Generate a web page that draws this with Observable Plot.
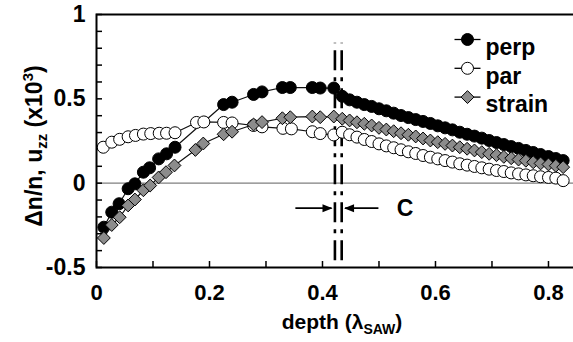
<!DOCTYPE html>
<html>
<head>
<meta charset="utf-8">
<script src="https://cdn.jsdelivr.net/npm/d3@7"></script>
<script src="https://cdn.jsdelivr.net/npm/@observablehq/plot@0.6"></script>
<style>
  html, body { margin: 0; padding: 0; background: #fff; }
  svg { display: block; }
</style>
</head>
<body>
<div id="chart"></div>
<script>
// ---- data ----
const depthDense = [0.435, 0.448, 0.461, 0.474, 0.487, 0.500, 0.513, 0.526, 0.539, 0.552,
  0.565, 0.578, 0.591, 0.604, 0.617, 0.630, 0.643, 0.656, 0.669, 0.682,
  0.695, 0.708, 0.721, 0.734, 0.747, 0.760, 0.773, 0.786, 0.800, 0.813, 0.826];

const perpXLeft = [0.013, 0.027, 0.040, 0.056, 0.068, 0.083, 0.094, 0.110, 0.124, 0.139,
  0.225, 0.240, 0.278, 0.293, 0.329, 0.343, 0.382, 0.396, 0.420];
const perpYLeft = [-0.261, -0.172, -0.122, -0.033, -0.004, 0.065, 0.091, 0.144, 0.174, 0.213,
  0.466, 0.480, 0.526, 0.541, 0.567, 0.567, 0.567, 0.564, 0.564];
const perpYDense = [0.515, 0.494, 0.480, 0.466, 0.455, 0.441, 0.429, 0.415, 0.401, 0.389,
  0.377, 0.366, 0.354, 0.340, 0.328, 0.316, 0.302, 0.290, 0.279, 0.267,
  0.253, 0.241, 0.229, 0.217, 0.206, 0.194, 0.182, 0.170, 0.158, 0.146, 0.134];

const parXLeft = [0.012, 0.027, 0.041, 0.056, 0.069, 0.083, 0.096, 0.111, 0.124, 0.139,
  0.177, 0.190, 0.225, 0.240, 0.278, 0.293, 0.330, 0.345, 0.382, 0.396, 0.420];
const parYLeft = [0.213, 0.243, 0.260, 0.275, 0.283, 0.291, 0.294, 0.296, 0.296, 0.299,
  0.360, 0.363, 0.360, 0.357, 0.342, 0.334, 0.325, 0.322, 0.305, 0.294, 0.286];
const parYDense = [0.302, 0.287, 0.273, 0.259, 0.247, 0.233, 0.221, 0.210, 0.198, 0.186,
  0.176, 0.164, 0.154, 0.144, 0.134, 0.125, 0.115, 0.107, 0.099, 0.091,
  0.083, 0.075, 0.069, 0.061, 0.055, 0.049, 0.044, 0.038, 0.034, 0.030, 0.015];

const strainXLeft = [0.013, 0.027, 0.041, 0.056, 0.068, 0.083, 0.095, 0.110, 0.123, 0.138,
  0.175, 0.189, 0.225, 0.240, 0.278, 0.293, 0.329, 0.343, 0.382, 0.396, 0.420];
const strainYLeft = [-0.325, -0.248, -0.202, -0.132, -0.097, -0.042, -0.014, 0.034, 0.065, 0.105,
  0.197, 0.235, 0.290, 0.305, 0.348, 0.362, 0.385, 0.391, 0.395, 0.391, 0.395];
const strainYDense = [0.382, 0.372, 0.361, 0.352, 0.342, 0.328, 0.318, 0.308, 0.296, 0.287,
  0.277, 0.265, 0.253, 0.243, 0.233, 0.223, 0.213, 0.204, 0.194, 0.184,
  0.174, 0.166, 0.156, 0.148, 0.140, 0.133, 0.124, 0.117, 0.111, 0.103, 0.095];

const seriesNames = ["perp", "par", "strain"];
const xTickLabels = [0, 0.2, 0.4, 0.6, 0.8];
const xTickMarks = [0, 0.1, 0.2, 0.3, 0.4, 0.5, 0.6, 0.7, 0.8];
const yTickLabels = [-0.5, 0, 0.5, 1];
const yTickMarks = [-0.5, -0.4, -0.3, -0.2, -0.1, 0, 0.1, 0.2, 0.3, 0.4, 0.5, 0.6, 0.7, 0.8, 0.9, 1];

// annotation: critical depth lines and arrows
const cLines = [0.422, 0.434];
const cLineSpan = [-0.46, 0.83];
const arrowFrom = [0.352, 0.499];
const arrowTo = [0.416, 0.440];
const arrowLevel = -0.148;
const cLabel = {x: 0.546, y: -0.15, text: "C"};

// ---- build tables ----
const zipXY = (xs, ys) => xs.map((x, i) => ({x, y: ys[i]}));
const perp = zipXY(perpXLeft.concat(depthDense), perpYLeft.concat(perpYDense));
const par = zipXY(parXLeft.concat(depthDense), parYLeft.concat(parYDense));
const strain = zipXY(strainXLeft.concat(depthDense), strainYLeft.concat(strainYDense));
const arrows = arrowFrom.map((x1, i) => ({x1, x2: arrowTo[i], y: arrowLevel, rot: x1 < arrowTo[i] ? 0 : 180}));

const styles = {
  perp: {fill: "black", symbol: "circle", r: 6},
  par: {fill: "white", symbol: "circle", r: 6},
  strain: {fill: "#8c8c8c", symbol: "diamond2", r: 5.8}
};
const seriesData = {perp, par, strain};

const legendLine = {draw(ctx) { ctx.moveTo(-13, 0); ctx.lineTo(13, 0); }};
const arrowHead = {draw(ctx) { ctx.moveTo(1, 0); ctx.lineTo(-9, -4); ctx.lineTo(-9, 4); ctx.closePath(); }};

const FONT = "'Liberation Sans', Arial, Helvetica, sans-serif";
const FS = 23;

const marks = [
  Plot.ruleY([0], {stroke: "#7f7f7f", strokeWidth: 1.3}),
  Plot.ruleY(yTickMarks, {x1: 0, x2: 0, insetRight: -6, stroke: "black", strokeWidth: 1.5}),
  Plot.ruleX(xTickMarks, {y1: -0.5, y2: -0.5, insetTop: -6, stroke: "black", strokeWidth: 1.5}),
  Plot.ruleX(cLines, {y1: cLineSpan[0], y2: cLineSpan[1], stroke: "black", strokeWidth: 2.6, strokeDasharray: "20,7,4,7"}),
  Plot.link(arrows, {x1: "x1", x2: "x2", y1: "y", y2: "y", stroke: "black", strokeWidth: 1.8}),
  Plot.dot(arrows, {x: "x2", y: "y", symbol: arrowHead, rotate: "rot", fill: "black", stroke: "none", r: 4}),
  Plot.text([cLabel], {x: "x", y: "y", text: "text", fontSize: FS, fontWeight: "bold", fill: "black"}),
];

for (const name of seriesNames) {
  const s = styles[name];
  marks.push(Plot.line(seriesData[name], {x: "x", y: "y", stroke: "#111", strokeWidth: 1.2}));
  marks.push(Plot.dot(seriesData[name], {x: "x", y: "y", r: s.r, symbol: s.symbol, fill: s.fill, stroke: "black", strokeWidth: 1}));
}

// legend
seriesNames.forEach((name, i) => {
  const s = styles[name];
  const dy = 25 + i * 28.8;
  marks.push(Plot.dot([{}], {frameAnchor: "top-left", dx: 371, dy, symbol: legendLine, stroke: "black", fill: "none", strokeWidth: 1.3}));
  marks.push(Plot.dot([{}], {frameAnchor: "top-left", dx: 371, dy, r: s.r, symbol: s.symbol, fill: s.fill, stroke: "black", strokeWidth: 1}));
  marks.push(Plot.text([name], {frameAnchor: "top-left", dx: 389, dy: dy - 1, text: d => d, textAnchor: "start", fontSize: FS, fontWeight: "bold", fill: "black"}));
});

marks.push(Plot.frame({stroke: "black", strokeWidth: 2}));
marks.push(Plot.axisX(xTickLabels, {tickSize: 0, tickPadding: 17, tickFormat: d => String(d), fontSize: 22, fontWeight: "bold", label: null}));
marks.push(Plot.axisY(yTickLabels, {tickSize: 0, tickPadding: 11, tickFormat: d => String(d), fontSize: FS, fontWeight: "bold", label: null}));

const chart = Plot.plot({
  width: 573,
  height: 342,
  marginLeft: 96,
  marginRight: -3,
  marginTop: 14,
  marginBottom: 75,
  x: {domain: [0, 0.8496]},
  y: {domain: [-0.5, 1]},
  style: {fontFamily: FONT, background: "white", color: "black", overflow: "hidden"},
  marks
});

// axis titles with sub/superscripts
const svg = d3.select(chart);
const yl = svg.append("text")
  .attr("transform", "translate(42,146) rotate(-90)")
  .attr("text-anchor", "middle")
  .attr("font-family", FONT).attr("font-weight", "bold").attr("font-size", 23).attr("fill", "black");
yl.append("tspan").text("Δn/n, u");
yl.append("tspan").attr("font-size", 15).attr("dy", 5).text("zz");
yl.append("tspan").attr("dy", -5).text(" (x10");
yl.append("tspan").attr("font-size", 15).attr("dy", -9).text("3");
yl.append("tspan").attr("dy", 9).text(")");

const xl = svg.append("text")
  .attr("transform", "translate(342,329)")
  .attr("text-anchor", "middle")
  .attr("font-family", FONT).attr("font-weight", "bold").attr("font-size", 21).attr("fill", "black");
xl.append("tspan").text("depth (λ");
xl.append("tspan").attr("font-size", 14).attr("dy", 5).text("SAW");
xl.append("tspan").attr("dy", -5).text(")");

document.getElementById("chart").appendChild(chart);
</script>
</body>
</html>
